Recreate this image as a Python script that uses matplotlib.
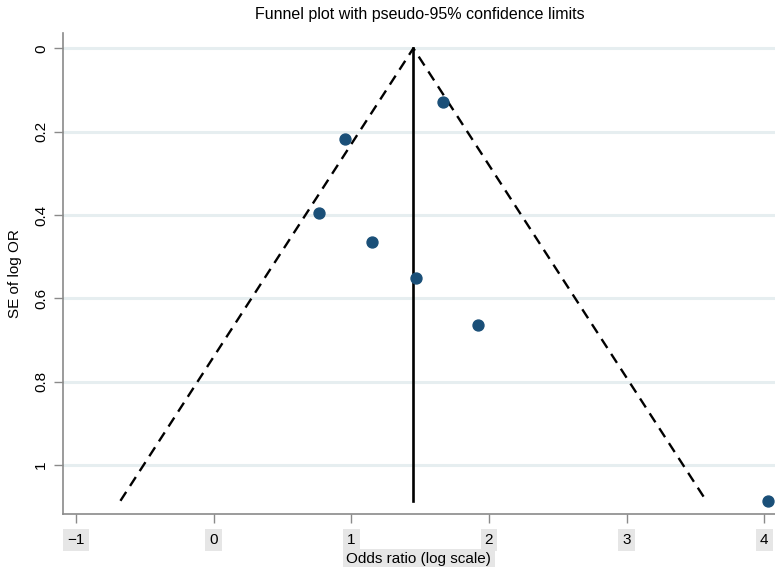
import matplotlib
matplotlib.use("Agg")
import matplotlib.pyplot as plt
import numpy as np

plt.rcParams['font.family'] = ['Liberation Sans', 'DejaVu Sans']

# Study data (log odds ratio, standard error)
log_or = [1.664, 0.954, 0.767, 1.148, 1.470, 1.921, 4.028]
se = [0.129, 0.218, 0.395, 0.465, 0.551, 0.665, 1.086]
pooled = 1.451
se_max = 1.086

x_ticks = [-1, 0, 1, 2, 3, 4]
x_tick_labels = ['\u22121', '0', '1', '2', '3', '4']
y_ticks = [0, 0.2, 0.4, 0.6, 0.8, 1.0]
y_tick_labels = ['0', '0.2', '0.4', '0.6', '0.8', '1']

fig = plt.figure(figsize=(7.75, 5.67), dpi=100)
ax = fig.add_axes([0.0809, 0.0935, 0.9191, 0.8483])

for yt in y_ticks:
    ax.axhline(yt, color='#e6eef0', lw=2.2, zorder=0)

# pseudo 95% limits
ax.plot([pooled - 1.96 * se_max, pooled, pooled + 1.96 * se_max], [se_max, 0, se_max],
        color='black', lw=1.7, ls=(0, (4.5, 3.0)), zorder=2)
ax.plot([pooled, pooled], [0, se_max], color='black', lw=1.9, zorder=2)

ax.scatter(log_or, se, s=62, color='#1a4f78', zorder=3, clip_on=False)

ax.set_xlim(-1.097, 4.079)
ax.set_ylim(1.1176, -0.0367)

for s in ['top', 'right']:
    ax.spines[s].set_visible(False)
for s in ['left', 'bottom']:
    ax.spines[s].set_color('#8a8a8a')
    ax.spines[s].set_linewidth(1.2)

ax.set_xticks(x_ticks)
ax.set_xticklabels(x_tick_labels, fontsize=11)
ax.set_yticks(y_ticks)
ax.set_yticklabels(y_tick_labels, fontsize=11, rotation=90, va='center')
ax.tick_params(axis='x', color='#8a8a8a', length=6.5, width=1.0, pad=7)
ax.tick_params(axis='y', color='#8a8a8a', length=6.5, width=1.0, pad=4)
for lab in ax.get_xticklabels():
    lab.set_bbox(dict(facecolor='#e6e6e6', edgecolor='none', pad=3))

ax.set_xlabel('Odds ratio (log scale)', fontsize=11, labelpad=4,
              bbox=dict(facecolor='#e6e6e6', edgecolor='none', pad=2.5))
ax.set_ylabel('SE of log OR', fontsize=11, labelpad=9)
fig.text(0.542, 0.975, 'Funnel plot with pseudo-95% confidence limits',
         ha='center', va='center', fontsize=11.5)

fig.savefig('out.png', dpi=100)
